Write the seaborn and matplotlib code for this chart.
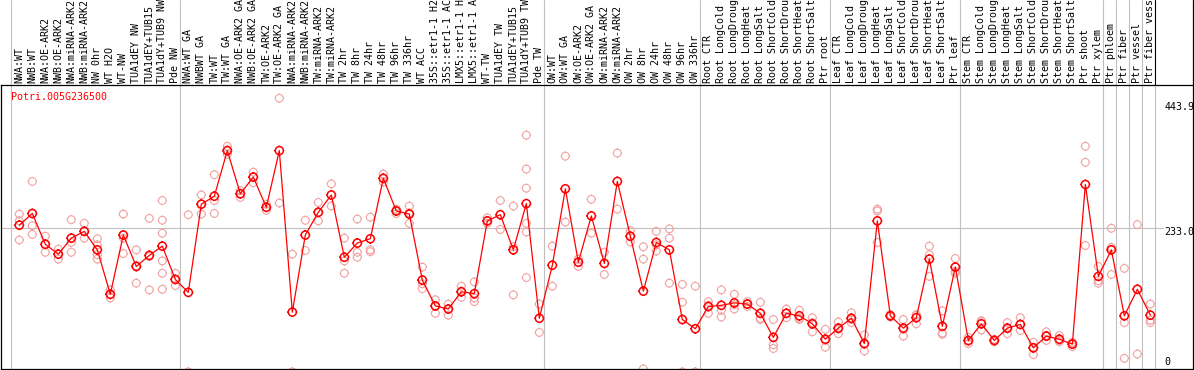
import numpy as np
import pandas as pd
import seaborn as sns
from matplotlib import pyplot as plt
from matplotlib.path import Path
from matplotlib import transforms

# sample names (truncated to 14 chars like the original viewer)
labels = ["NWA:WT", "NWB:WT", "NWA:OE-ARK2", "NWB:OE-ARK2", "NWA:miRNA-ARK2", "NWB:miRNA-ARK2",
          "NW 0hr", "WT H2O", "WT-NW", "TUA1dEY NW", "TUA1dEY+TUB15", "TUA1dY+TUB9 NW", "Pde NW",
          "NWA:WT GA", "NWBWT GA", "TW:WT", "TW:WT GA", "NWA:OE-ARK2 GA", "NWB:OE-ARK2 GA",
          "TW:OE-ARK2", "TW:OE-ARK2 GA", "NWA:miRNA-ARK2", "NWB:miRNA-ARK2", "TW:miRNA-ARK2",
          "TW:miRNA-ARK2", "TW 2hr", "TW 8hr", "TW 24hr", "TW 48hr", "TW 96hr", "TW 336hr",
          "WT ACC", "35S::etr1-1 H2", "35S::etr1-1 AC", "LMX5::etr1-1 H", "LMX5::etr1-1 A",
          "WT-TW", "TUA1dEY TW", "TUA1dEY+TUB15", "TUA1dY+TUB9 TW", "Pde TW",
          "OW:WT", "OW:WT GA", "OW:OE-ARK2", "OW:OE-ARK2 GA", "OW:miRNA-ARK2", "OW:miRNA-ARK2",
          "OW 2hr", "OW 8hr", "OW 24hr", "OW 48hr", "OW 96hr", "OW 336hr",
          "Root CTR", "Root LongCold", "Root LongDroug", "Root LongHeat", "Root LongSalt",
          "Root ShortCold", "Root ShortDrou", "Root ShortHeat", "Root ShortSalt", "Ptr root",
          "Leaf CTR", "Leaf LongCold", "Leaf LongDroug", "Leaf LongHeat", "Leaf LongSalt",
          "Leaf ShortCold", "Leaf ShortDrou", "Leaf ShortHeat", "Leaf ShortSalt", "Ptr leaf",
          "Stem CTR", "Stem LongCold", "Stem LongDroug", "Stem LongHeat", "Stem LongSalt",
          "Stem ShortCold", "Stem ShortDrou", "Stem ShortHeat", "Stem ShortSalt", "Ptr shoot",
          "Ptr xylem", "Ptr phloem", "Ptr fiber", "Ptr vessel", "Ptr fiber vess"]

# mean expression per sample
means = [238, 257, 207, 191, 217, 228, 198, 126, 222, 171, 189, 204, 150,
         129, 272, 285, 359, 289, 316, 267, 359, 97, 222, 259, 287, 186, 209, 216,
         314, 261, 256, 149, 107, 102, 130, 127, 245, 255, 198, 273, 87,
         173, 297, 178, 253, 176, 309, 220, 131, 210, 198, 85, 70,
         106, 108, 112, 110, 95, 56, 95, 91, 78, 53,
         71, 87, 46, 245, 91, 71, 88, 183, 74, 170,
         51, 78, 51, 71, 77, 39, 58, 53, 45, 304, 155, 198, 91, 134, 92]

# individual replicates per sample
reps = [[256, 245, 214], [309, 237, 223], [220, 207, 194], [199, 191, 183], [247, 210, 194],
        [241, 228, 217], [216, 206, 190, 183], [133, 125, 120], [256, 217, 192], [198, 172, 144],
        [249, 187, 133], [278, 246, 225, 180, 160, 134], [160, 150, 140],
        [255, 0], [287, 272, 256], [320, 278, 257], [366, 359, 353], [294, 289, 283],
        [324, 316, 307], [272, 267, 262], [444, 274], [191, 0], [246, 197], [275, 258, 245],
        [305, 269], [217, 180, 160], [248, 194, 186], [251, 198, 195], [321, 314, 308],
        [264, 261, 257], [269, 258, 241], [170, 143, 135], [117, 107, 95], [110, 102, 92],
        [139, 131, 121], [146, 120, 114], [250, 245, 241], [278, 231], [269, 203, 125],
        [384, 329, 298, 241, 227, 153], [110, 64],
        [204, 139], [350, 243], [183, 178, 171], [280, 225], [194, 158], [355, 264],
        [229, 220, 211], [203, 183, 5], [228, 206, 196], [232, 217, 144], [142, 113, 0], [139, 0],
        [114, 108, 95], [133, 100, 89], [126, 109, 102], [114, 110, 106], [113, 87, 85],
        [85, 44, 38], [102, 95, 88], [100, 87, 85], [88, 80, 65], [69, 51, 40],
        [81, 69, 62], [96, 85, 80], [60, 45, 34], [264, 261, 210], [93, 91, 89],
        [85, 69, 58], [93, 92, 78], [204, 190, 155], [99, 63, 61], [184, 163, 160],
        [56, 50, 46], [83, 82, 68], [53, 51, 49], [80, 70, 62], [88, 77, 67],
        [48, 40, 28], [65, 59, 51], [59, 51, 49], [48, 47, 41], [366, 340, 205],
        [171, 148, 144], [233, 202, 158], [168, 80, 22], [239, 29], [110, 84, 80]]

group_ends = [12, 40, 52, 62, 72, 83, 84, 85, 86, 87]
ytick_vals = [443.9, 233.0, 0]
ytick_text = ["443.9", "233.0", "0"]
gene = "Potri.005G236500"

sns.set_style("white")
plt.rcParams['font.family'] = ['DejaVu Sans Mono']
FS = 7.2
GRAY = "#c0c0c0"

idx = np.arange(len(labels))
df_mean = pd.DataFrame({"idx": idx, "value": means})
df_rep = pd.DataFrame({"idx": np.repeat(idx, [len(r) for r in reps]),
                       "value": np.concatenate(reps)})

# circle marker with little ticks around it
ring = Path.make_compound_path(
    Path.unit_circle(),
    *[Path([(dx, dy), (dx * 1.22, dy * 1.22)], [Path.MOVETO, Path.LINETO])
      for dx, dy in [(0, 1), (0, -1), (1, 0), (-1, 0)]])

W, H = 1194, 370
fig = plt.figure(figsize=(W / 100, H / 100), dpi=100)
ax = fig.add_axes([1 / W, 1 / H, 1192 / W, 284 / H])
ax_h = fig.add_axes([1 / W, 285 / H, 1192 / W, 85 / H], sharex=ax)

sns.scatterplot(data=df_rep, x="idx", y="value", ax=ax, marker=ring, s=46,
                facecolors="none", edgecolor="#f2a3a3", linewidth=0.8, zorder=2)
sns.lineplot(data=df_mean, x="idx", y="value", ax=ax, color="red", lw=0.9, zorder=3)
sns.scatterplot(data=df_mean, x="idx", y="value", ax=ax, marker=ring, s=50,
                facecolors="none", edgecolor="red", linewidth=1.1, zorder=4)

ax.set_xlim(-1.408, 90.28)
ax.set_ylim(4.7, 465.4)
ax.set_xticks([])
ax.set_yticks([])
ax.set_xlabel("")
ax.set_ylabel("")
for sp in ax.spines.values():
    sp.set_color("black")
    sp.set_linewidth(0.9)

# group separators
bounds = [-0.65] + [e + 0.35 for e in group_ends]
for b in bounds:
    ax.axvline(b, color=GRAY, lw=0.8, zorder=1)
    ax_h.axvline(b, color="black" if b == bounds[-1] else GRAY, lw=0.8)
ax.axhline(233.0, xmax=0.975, color=GRAY, lw=0.8, zorder=1)

# right side value labels
tr = transforms.blended_transform_factory(ax.transAxes, ax.transData)
for v, t in zip(ytick_vals, ytick_text):
    if v == 0:
        ax.annotate(t, (0.976, v), xycoords=tr, xytext=(0, 7), textcoords="offset points",
                    fontsize=FS, color="black", va="center", annotation_clip=False)
    else:
        ax.annotate(t, (0.976, v), xycoords=tr, xytext=(0, -2.5 if v == 233.0 else -6),
                    textcoords="offset points", fontsize=FS, color="black", va="center",
                    annotation_clip=False)

tr2 = transforms.blended_transform_factory(ax.transData, ax.transAxes)
ax.text(-0.65, 0.958, gene, transform=tr2, fontsize=FS, color="red", va="center", ha="left")

# header with rotated sample names
ax_h.axis("off")
ax_h.set_ylim(0, 1)
for i, lab in enumerate(labels):
    ax_h.text(i, 0.024, lab, rotation=90, ha="center", va="bottom", fontsize=FS,
              color="black", clip_on=False)
ax_h.plot([1, 1], [0, 1], transform=ax_h.transAxes, color="black", lw=0.9, clip_on=False)

fig.savefig("out.png", dpi=100)
